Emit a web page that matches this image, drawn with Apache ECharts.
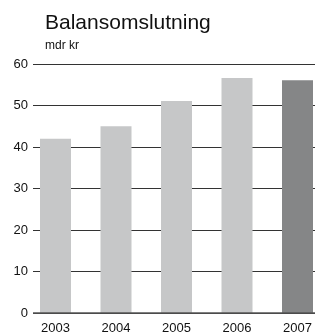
<!DOCTYPE html>
<html>
<head>
<meta charset="utf-8">
<script src="https://cdn.jsdelivr.net/npm/echarts@6/dist/echarts.min.js"></script>
<style>
html,body{margin:0;padding:0;background:#fff;}
#chart{width:315px;height:334px;}
</style>
</head>
<body>
<div id="chart"></div>
<script>
const categories = ['2003', '2004', '2005', '2006', '2007'];
const values = [42, 45, 51.1, 56.6, 56.1];
const barColors = ['#c6c7c8', '#c6c7c8', '#c6c7c8', '#c6c7c8', '#858687'];
const yTicks = [0, 10, 20, 30, 40, 50, 60];

const font = 'Liberation Sans, Arial, Helvetica, sans-serif';
const chart = echarts.init(document.getElementById('chart'), null, {renderer: 'canvas'});
chart.setOption({
  animation: false,
  backgroundColor: '#fff',
  title: [
    {text: 'Balansomslutning', left: 40, top: 8,
     textStyle: {fontFamily: font, fontSize: 21, fontWeight: 'normal', color: '#111'}},
    {text: 'mdr kr', left: 40, top: 35,
     textStyle: {fontFamily: font, fontSize: 12, fontWeight: 'normal', color: '#111'}}
  ],
  grid: [
    {left: 33, right: 0, top: 64, bottom: 21, outerBoundsMode: 'none', containLabel: false},
    {left: 25.25, width: 302.5, top: 64, bottom: 21, outerBoundsMode: 'none', containLabel: false}
  ],
  xAxis: [
    {gridIndex: 0, type: 'category', data: categories, show: false},
    {gridIndex: 1, type: 'category', data: categories,
     axisLine: {show: false}, axisTick: {show: false},
     axisLabel: {fontFamily: font, fontSize: 13, color: '#111', margin: 9}}
  ],
  yAxis: [
    {gridIndex: 0, type: 'value', min: yTicks[0], max: yTicks[yTicks.length - 1], interval: 10,
     axisLine: {show: false}, axisTick: {show: false},
     axisLabel: {fontFamily: font, fontSize: 13, color: '#111', margin: 5},
     splitLine: {show: true, lineStyle: {color: '#333', width: 1}}},
    {gridIndex: 1, type: 'value', min: yTicks[0], max: yTicks[yTicks.length - 1], interval: 10,
     show: false, splitLine: {show: false}}
  ],
  series: [
    {type: 'bar', xAxisIndex: 1, yAxisIndex: 1, barWidth: 31,
     data: values.map((v, i) => ({value: v, itemStyle: {color: barColors[i]}})),
     z: 3},
    {type: 'line', xAxisIndex: 0, yAxisIndex: 0, data: [],
     markLine: {silent: true, symbol: 'none', label: {show: false},
       lineStyle: {color: '#555', width: 1.5, type: 'solid'},
       data: [{yAxis: 0}], z: 4}}
  ]
});
</script>
</body>
</html>
